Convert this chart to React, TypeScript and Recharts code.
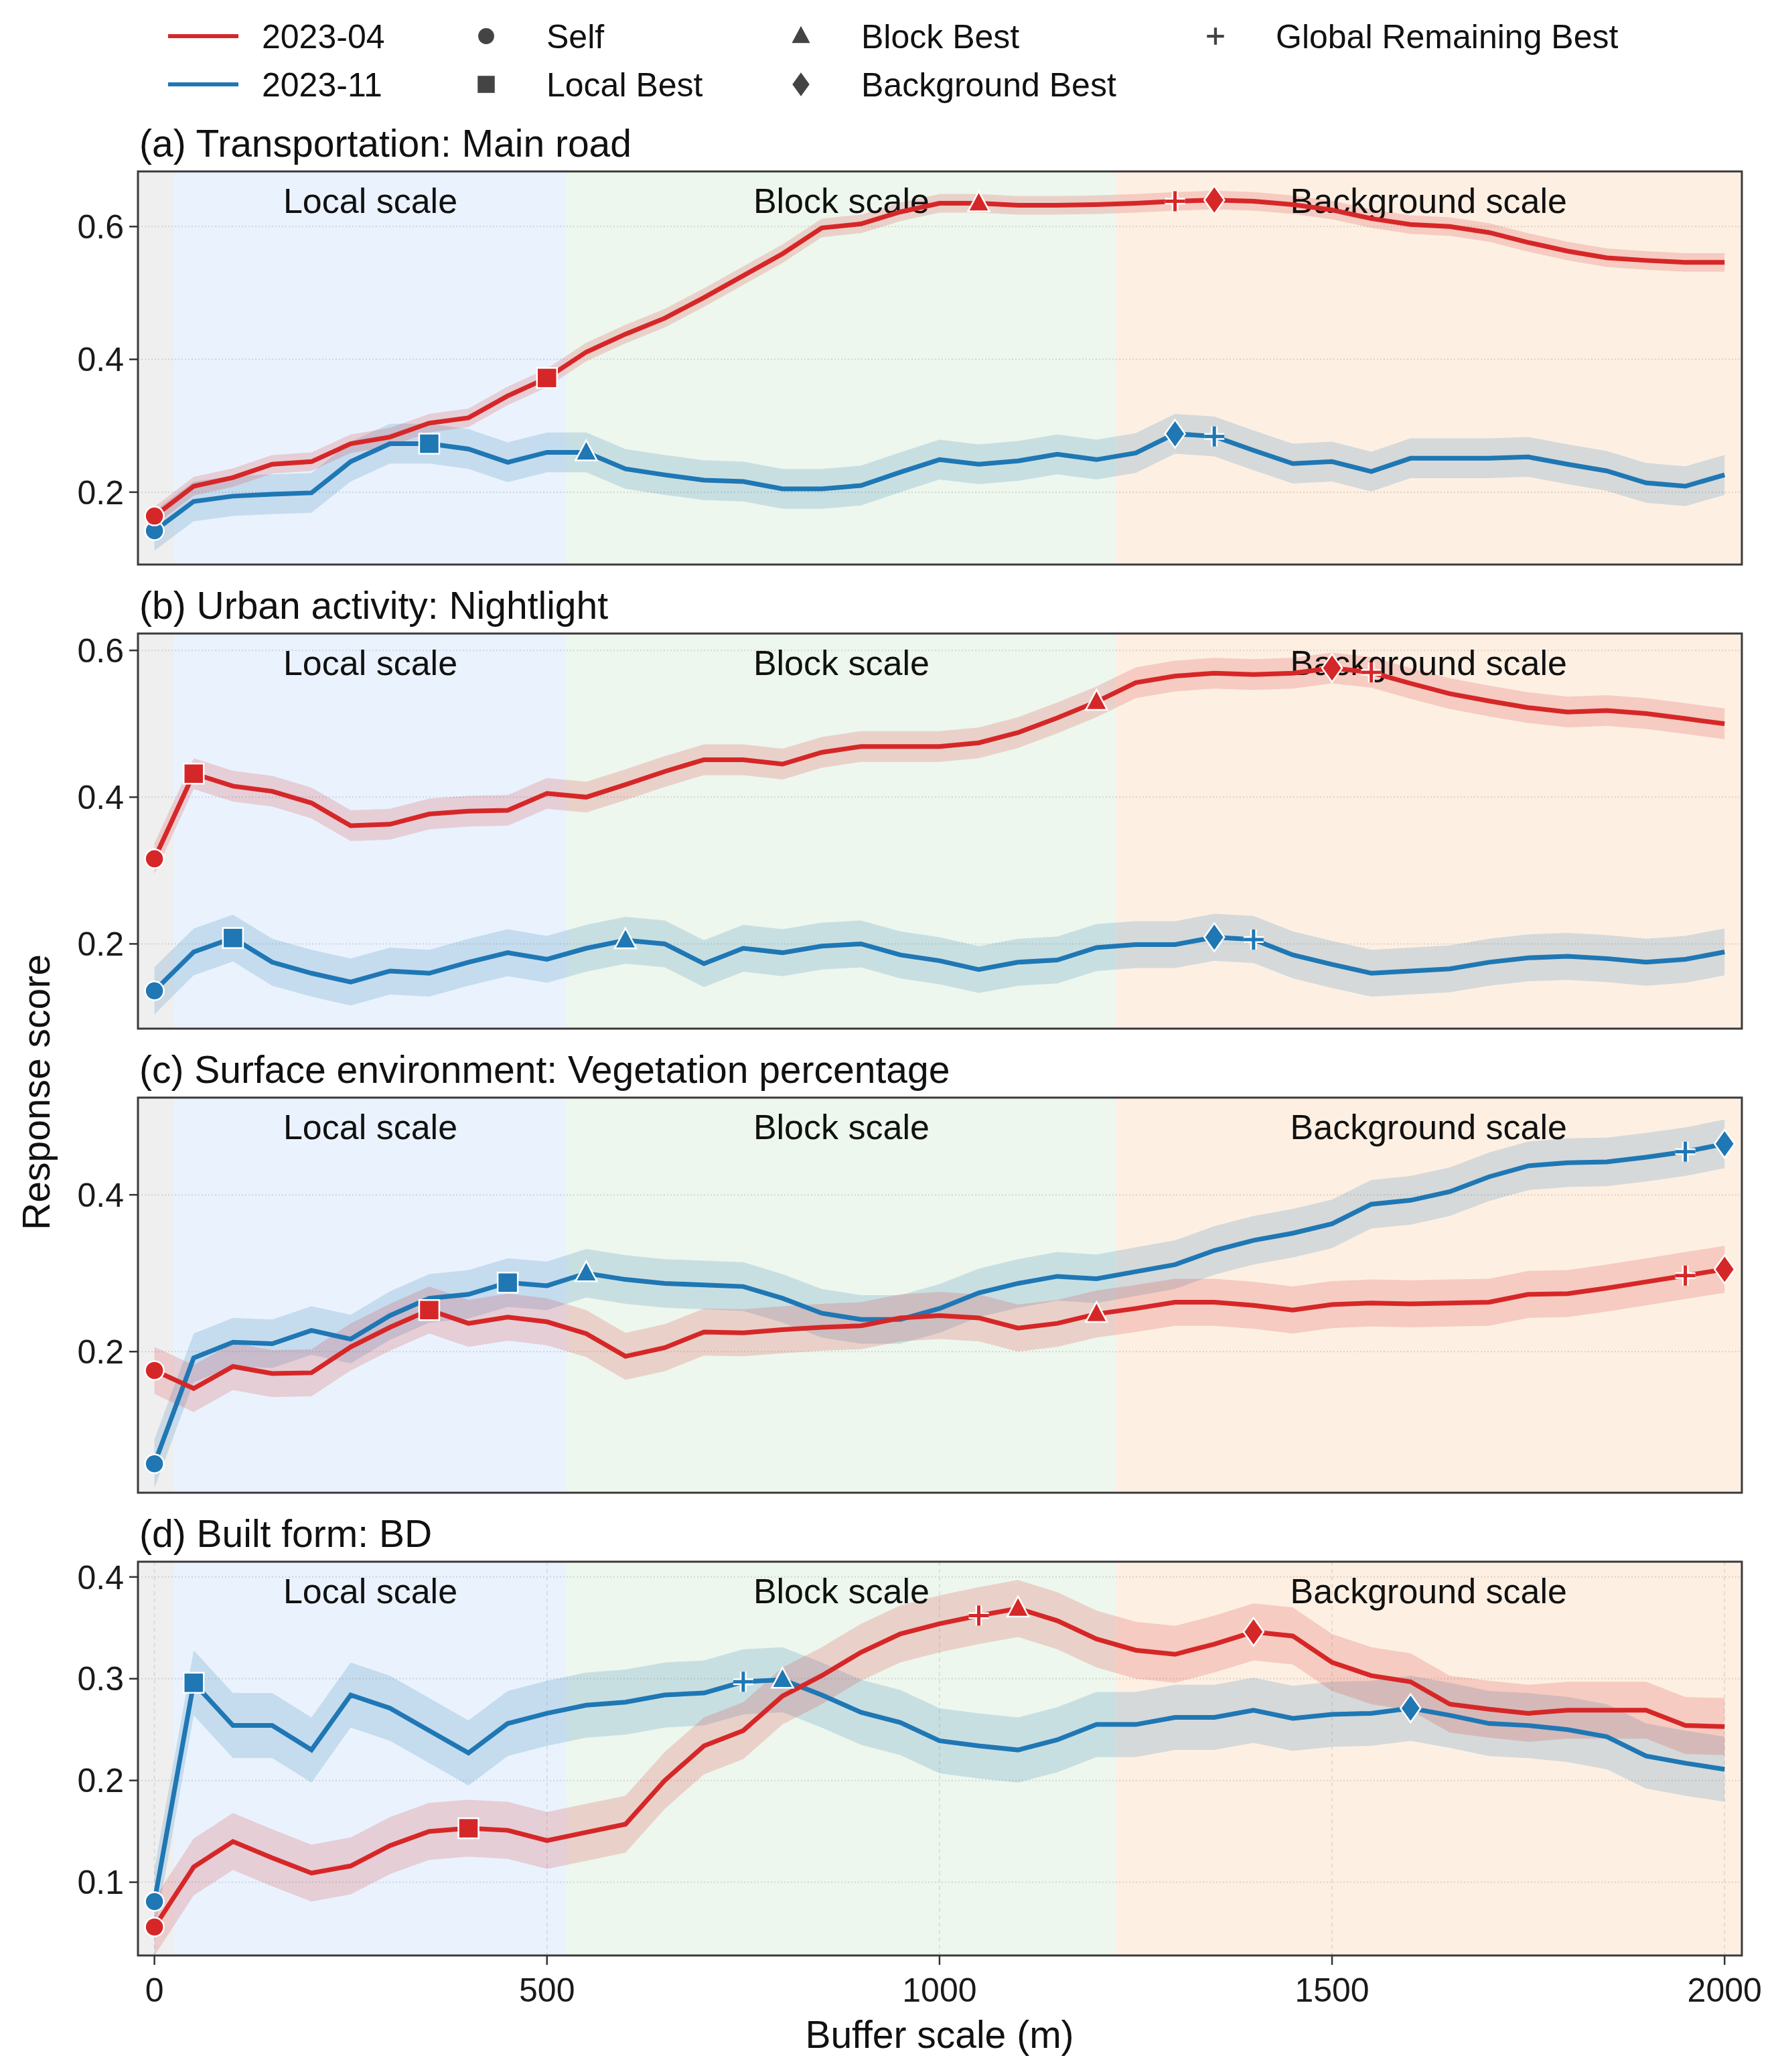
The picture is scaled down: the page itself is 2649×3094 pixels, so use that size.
import React from 'react';
import {
  ComposedChart,
  Line,
  Area,
  XAxis,
  YAxis,
  CartesianGrid,
  ReferenceArea,
  ReferenceLine,
} from 'recharts';

const RED = '#d62728';
const BLUE = '#1f77b4';
const FONT = '"Liberation Sans", Arial, Helvetica, sans-serif';

// buffer scale (m)
const bufferScale = [
  0, 50, 100, 150, 200, 250, 300, 350, 400, 450, 500, 550, 600, 650, 700, 750, 800, 850, 900, 950, 1000,
  1050, 1100, 1150, 1200, 1250, 1300, 1350, 1400, 1450, 1500, 1550, 1600, 1650, 1700, 1750, 1800, 1850,
  1900, 1950, 2000,
];
const xTicks = [0, 500, 1000, 1500, 2000];
const xDomain: [number, number] = [-21, 2022];

// (a) main road
const roadApr = [
  0.164, 0.209, 0.222, 0.242, 0.246, 0.273, 0.283, 0.304, 0.312, 0.345, 0.372, 0.411, 0.438, 0.462, 0.493,
  0.526, 0.559, 0.598, 0.604, 0.622, 0.635, 0.635, 0.632, 0.632, 0.633, 0.635, 0.638, 0.64, 0.638, 0.633,
  0.625, 0.612, 0.603, 0.6, 0.591, 0.576, 0.563, 0.553, 0.549, 0.546, 0.546,
];
const roadNov = [
  0.142, 0.186, 0.194, 0.197, 0.199, 0.246, 0.273, 0.273, 0.265, 0.245, 0.26, 0.26, 0.235, 0.226, 0.218,
  0.216, 0.205, 0.205, 0.21, 0.23, 0.249, 0.242, 0.247, 0.257, 0.249, 0.259, 0.288, 0.284, 0.263, 0.243,
  0.246, 0.231, 0.251, 0.251, 0.251, 0.253, 0.242, 0.232, 0.214, 0.209, 0.226,
];

// (b) nightlight
const lightApr = [
  0.316, 0.432, 0.415, 0.408, 0.392, 0.361, 0.363, 0.377, 0.381, 0.382, 0.405, 0.4, 0.417, 0.435, 0.451,
  0.451, 0.445, 0.461, 0.469, 0.469, 0.469, 0.474, 0.488, 0.508, 0.53, 0.556, 0.565, 0.569, 0.567, 0.569,
  0.576, 0.57, 0.555, 0.541, 0.531, 0.522, 0.516, 0.518, 0.514, 0.507, 0.5,
];
const lightNov = [
  0.136, 0.189, 0.208, 0.175, 0.16, 0.148, 0.163, 0.16, 0.175, 0.188, 0.179, 0.194, 0.205, 0.2, 0.173,
  0.194, 0.188, 0.197, 0.2, 0.185, 0.177, 0.165, 0.175, 0.178, 0.195, 0.199, 0.199, 0.209, 0.206, 0.185,
  0.172, 0.16, 0.163, 0.166, 0.175, 0.181, 0.183, 0.18, 0.175, 0.179, 0.189,
];

// (c) vegetation
const vegApr = [
  0.176, 0.153, 0.181, 0.172, 0.173, 0.206, 0.231, 0.253, 0.236, 0.244, 0.238, 0.223, 0.194, 0.205, 0.225,
  0.224, 0.228, 0.231, 0.233, 0.243, 0.246, 0.243, 0.23, 0.236, 0.248, 0.255, 0.263, 0.263, 0.259, 0.253,
  0.26, 0.262, 0.261, 0.262, 0.263, 0.273, 0.274, 0.281, 0.289, 0.297, 0.305,
];
const vegNov = [
  0.057, 0.192, 0.212, 0.21, 0.227, 0.216, 0.246, 0.268, 0.273, 0.288, 0.284, 0.3, 0.292, 0.287, 0.285,
  0.283, 0.268, 0.249, 0.241, 0.241, 0.255, 0.275, 0.287, 0.296, 0.293, 0.302, 0.311, 0.329, 0.342, 0.351,
  0.363, 0.388, 0.393, 0.404, 0.423, 0.437, 0.441, 0.442, 0.448, 0.455, 0.465,
];

// (d) BD
const bdApr = [
  0.056, 0.115, 0.14, 0.124, 0.109, 0.116, 0.136, 0.15, 0.153, 0.151, 0.141, 0.149, 0.157, 0.2, 0.234,
  0.249, 0.283, 0.303, 0.326, 0.344, 0.354, 0.362, 0.369, 0.357, 0.339, 0.328, 0.324, 0.334, 0.346, 0.342,
  0.316, 0.303, 0.297, 0.275, 0.27, 0.266, 0.269, 0.269, 0.269, 0.254, 0.253,
];
const bdNov = [
  0.081, 0.296, 0.254, 0.254, 0.23, 0.284, 0.271, 0.249, 0.227, 0.256, 0.266, 0.274, 0.277, 0.284, 0.286,
  0.297, 0.299, 0.284, 0.267, 0.257, 0.239, 0.234, 0.23, 0.24, 0.255, 0.255, 0.262, 0.262, 0.269, 0.261,
  0.265, 0.266, 0.271, 0.264, 0.256, 0.254, 0.25, 0.243, 0.224, 0.217, 0.211,
];

type Mark = 'self' | 'local' | 'block' | 'background' | 'global';

const roadAprMarks: [number, Mark][] = [[0, 'self'], [500, 'local'], [1050, 'block'], [1300, 'global'], [1350, 'background']];
const roadNovMarks: [number, Mark][] = [[0, 'self'], [350, 'local'], [550, 'block'], [1300, 'background'], [1350, 'global']];
const lightAprMarks: [number, Mark][] = [[0, 'self'], [50, 'local'], [1200, 'block'], [1500, 'background'], [1550, 'global']];
const lightNovMarks: [number, Mark][] = [[0, 'self'], [100, 'local'], [600, 'block'], [1350, 'background'], [1400, 'global']];
const vegAprMarks: [number, Mark][] = [[0, 'self'], [350, 'local'], [1200, 'block'], [1950, 'global'], [2000, 'background']];
const vegNovMarks: [number, Mark][] = [[0, 'self'], [450, 'local'], [550, 'block'], [1950, 'global'], [2000, 'background']];
const bdAprMarks: [number, Mark][] = [[0, 'self'], [400, 'local'], [1050, 'global'], [1100, 'block'], [1400, 'background']];
const bdNovMarks: [number, Mark][] = [[0, 'self'], [50, 'local'], [750, 'global'], [800, 'block'], [1600, 'background']];

// scale zones
const zones = [
  { x1: -21, x2: 25, fill: '#e4e4e4' },
  { x1: 25, x2: 525, fill: '#dcebfc' },
  { x1: 525, x2: 1225, fill: '#e1f2e1' },
  { x1: 1225, x2: 2022, fill: '#fce6d0' },
];
const zoneLabels: [number, string][] = [[275, 'Local scale'], [875, 'Block scale'], [1623, 'Background scale']];

const panels = [
  { title: '(a) Transportation: Main road', apr: roadApr, nov: roadNov, aprMarks: roadAprMarks, novMarks: roadNovMarks,
    aprCi: 0.014, novCi: 0.03, domain: [0.091, 0.683], ticks: [0.2, 0.4, 0.6], top: 256, height: 587 },
  { title: '(b) Urban activity: Nightlight', apr: lightApr, nov: lightNov, aprMarks: lightAprMarks, novMarks: lightNovMarks,
    aprCi: 0.021, novCi: 0.032, domain: [0.0845, 0.623], ticks: [0.2, 0.4, 0.6], top: 946, height: 590 },
  { title: '(c) Surface environment: Vegetation percentage', apr: vegApr, nov: vegNov, aprMarks: vegAprMarks, novMarks: vegNovMarks,
    aprCi: 0.03, novCi: 0.031, domain: [0.02, 0.524], ticks: [0.2, 0.4], top: 1639, height: 590 },
  { title: '(d) Built form: BD', apr: bdApr, nov: bdNov, aprMarks: bdAprMarks, novMarks: bdNovMarks,
    aprCi: 0.028, novCi: 0.032, domain: [0.028, 0.415], ticks: [0.1, 0.2, 0.3, 0.4], top: 2332, height: 588 },
];

function MarkerShape({ kind, cx, cy, color, edge = '#fff', s = 1 }: any) {
  const sw = 2.5;
  if (kind === 'self') return <circle cx={cx} cy={cy} r={14 * s} fill={color} stroke={edge} strokeWidth={sw} />;
  if (kind === 'local')
    return <rect x={cx - 15 * s} y={cy - 15 * s} width={30 * s} height={30 * s} fill={color} stroke={edge} strokeWidth={sw} />;
  if (kind === 'block')
    return (
      <path
        d={`M${cx},${cy - 18 * s} L${cx + 16 * s},${cy + 12 * s} L${cx - 16 * s},${cy + 12 * s} Z`}
        fill={color}
        stroke={edge}
        strokeWidth={sw}
      />
    );
  if (kind === 'background')
    return (
      <path
        d={`M${cx},${cy - 21 * s} L${cx + 15 * s},${cy} L${cx},${cy + 21 * s} L${cx - 15 * s},${cy} Z`}
        fill={color}
        stroke={edge}
        strokeWidth={sw}
      />
    );
  const d = `M${cx - 15 * s},${cy} H${cx + 15 * s} M${cx},${cy - 15 * s} V${cy + 15 * s}`;
  return (
    <g>
      {edge !== 'none' && <path d={d} stroke={edge} strokeWidth={10 * s} />}
      <path d={d} stroke={color} strokeWidth={5 * s} />
    </g>
  );
}

const makeDot = (marks: [number, Mark][], color: string) => (props: any) => {
  const { cx, cy, payload, index } = props;
  const m = marks.find(([x]) => x === payload.x);
  if (!m || cx == null || cy == null) return <g key={`n${index}`} />;
  return (
    <g key={`m${index}`}>
      <MarkerShape kind={m[1]} cx={cx} cy={cy} color={color} />
    </g>
  );
};

function Panel({ p, last }: any) {
  const data = bufferScale.map((x, i) => ({
    x,
    apr: p.apr[i],
    nov: p.nov[i],
    aprBand: [p.apr[i] - p.aprCi, p.apr[i] + p.aprCi],
    novBand: [p.nov[i] - p.novCi, p.nov[i] + p.novCi],
  }));
  const xH = last ? 110 : 30;
  const tickFont = { fontSize: 50, fill: '#1a1a1a', fontFamily: FONT };
  return (
    <div style={{ position: 'absolute', left: 0, top: p.top - 10 }}>
      <ComposedChart width={2649} height={10 + p.height + xH} data={data} margin={{ top: 10, right: 48, bottom: 0, left: 56 }}>
        {zones.map((z) => (
          <ReferenceArea key={z.x1} x1={z.x1} x2={z.x2} fill={z.fill} fillOpacity={0.6} stroke="none" />
        ))}
        <CartesianGrid horizontal vertical={false} stroke="#b5b5b5" strokeDasharray="2 3" strokeWidth={2} />
        <CartesianGrid horizontal={false} vertical stroke="#bdbdbd" strokeDasharray="6 5" strokeWidth={1.5} />
        <XAxis
          type="number"
          dataKey="x"
          domain={xDomain}
          ticks={xTicks}
          allowDataOverflow
          height={xH}
          axisLine={false}
          tickSize={14}
          tickMargin={19}
          tickLine={{ stroke: '#333', strokeWidth: 2.5 }}
          tick={last ? tickFont : false}
        />
        <YAxis
          type="number"
          domain={p.domain}
          ticks={p.ticks}
          allowDataOverflow
          width={150}
          axisLine={false}
          tickSize={13}
          tickMargin={8}
          tickLine={{ stroke: '#333', strokeWidth: 2.5 }}
          tick={tickFont}
          tickFormatter={(v: number) => v.toFixed(1)}
        />
        {zoneLabels.map(([x, text]) => (
          <ReferenceLine
            key={text}
            x={x}
            stroke="none"
            zIndex={150}
            label={{ value: text, position: 'insideTop', offset: 25, fontSize: 52, fill: '#111', fontFamily: FONT, zIndex: 150 }}
          />
        ))}
        <Area type="linear" dataKey="novBand" stroke="none" fill={BLUE} fillOpacity={0.18} dot={false} activeDot={false} isAnimationActive={false} />
        <Area type="linear" dataKey="aprBand" stroke="none" fill={RED} fillOpacity={0.18} dot={false} activeDot={false} isAnimationActive={false} />
        <Line type="linear" dataKey="nov" stroke={BLUE} strokeWidth={7} dot={makeDot(p.novMarks, BLUE)} activeDot={false} isAnimationActive={false} />
        <Line type="linear" dataKey="apr" stroke={RED} strokeWidth={7} dot={makeDot(p.aprMarks, RED)} activeDot={false} isAnimationActive={false} />
        <ReferenceArea x1={xDomain[0]} x2={xDomain[1]} y1={p.domain[0]} y2={p.domain[1]} fill="none" stroke="#3a3a3a" strokeWidth={3} />
      </ComposedChart>
    </div>
  );
}

const legendMarks: [number, number, Mark, string][] = [
  [726, 54, 'self', 'Self'],
  [726, 126, 'local', 'Local Best'],
  [1196, 54, 'block', 'Block Best'],
  [1196, 126, 'background', 'Background Best'],
  [1815, 54, 'global', 'Global Remaining Best'],
];

export default function App() {
  return (
    <div style={{ position: 'absolute', left: 0, top: 0, width: 2649, height: 3094, background: '#fff', fontFamily: FONT }}>
      <svg width={2649} height={3094} style={{ position: 'absolute', left: 0, top: 0 }}>
        <g fontFamily={FONT} fontSize={50} fill="#111">
          <line x1={251} x2={356} y1={54} y2={54} stroke={RED} strokeWidth={6} />
          <text x={391} y={72}>2023-04</text>
          <line x1={251} x2={356} y1={126} y2={126} stroke={BLUE} strokeWidth={6} />
          <text x={391} y={144}>2023-11</text>
          {legendMarks.map(([x, y, kind, label]) => (
            <g key={label}>
              <MarkerShape kind={kind} cx={x} cy={y} color="#444" edge="none" s={0.85} />
              <text x={x + 90} y={y + 18}>{label}</text>
            </g>
          ))}
        </g>
        {panels.map((p) => (
          <text key={p.title} x={208} y={p.top - 22} fontFamily={FONT} fontSize={57} fill="#111">
            {p.title}
          </text>
        ))}
        <text transform="translate(74,1631) rotate(-90)" textAnchor="middle" fontFamily={FONT} fontSize={57} fill="#111">
          Response score
        </text>
        <text x={1403} y={3058} textAnchor="middle" fontFamily={FONT} fontSize={57} fill="#111">
          Buffer scale (m)
        </text>
      </svg>
      {panels.map((p, i) => (
        <Panel key={p.title} p={p} last={i === panels.length - 1} />
      ))}
    </div>
  );
}
